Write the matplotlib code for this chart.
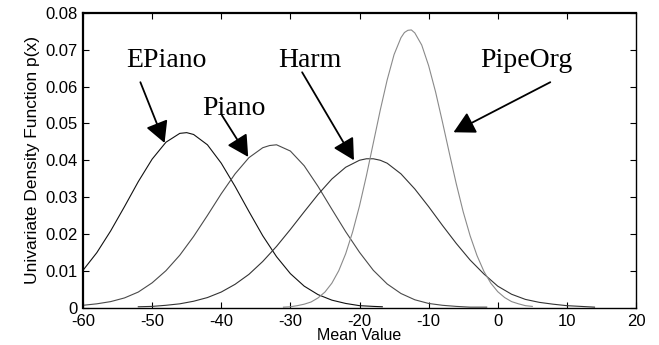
import matplotlib
matplotlib.use("Agg")
import matplotlib.pyplot as plt

# ---- data ----
epiano_x = [-60, -58, -56, -54, -52, -50, -48, -46, -45, -44, -42, -40, -38, -36, -34,
            -32, -30, -28, -26, -24, -22, -20, -18, -16.7]
epiano_y = [0.0101, 0.0149, 0.0208, 0.0274, 0.0342, 0.0403, 0.0449, 0.0473, 0.0475, 0.0470,
            0.0442, 0.0392, 0.0329, 0.0261, 0.0195, 0.0138, 0.0092, 0.0058, 0.0035, 0.0020,
            0.0011, 0.0005, 0.0003, 0.0002]

piano_x = [-60, -58, -56, -54, -52, -50, -48, -46, -44, -42, -40, -38, -36, -34, -33, -32,
           -30, -28, -26, -24, -22, -20, -18, -16, -14, -12, -10, -8, -6, -4, -1.6]
piano_y = [0.0006, 0.0010, 0.0016, 0.0026, 0.0042, 0.0067, 0.0100, 0.0142, 0.0193, 0.0250,
           0.0309, 0.0363, 0.0407, 0.0434, 0.0440, 0.0442, 0.0425, 0.0385, 0.0329, 0.0267,
           0.0206, 0.0150, 0.0101, 0.0064, 0.0038, 0.0021, 0.0011, 0.0006, 0.0003, 0.0001,
           0.0001]

harm_x = [-52, -50, -48, -46, -44, -42, -40, -38, -36, -34, -32, -30, -28, -26, -24, -22,
          -20, -19, -18, -17, -16, -14, -12, -10, -8, -6, -4, -2, 0, 2, 4, 6, 8, 10, 12, 14]
harm_y = [0.0002, 0.0003, 0.0006, 0.0010, 0.0017, 0.0027, 0.0042, 0.0063, 0.0090, 0.0125,
          0.0166, 0.0212, 0.0260, 0.0307, 0.0349, 0.0381, 0.0400, 0.0404, 0.0404, 0.0400,
          0.0392, 0.0363, 0.0322, 0.0274, 0.0223, 0.0174, 0.0129, 0.0091, 0.0058, 0.0036,
          0.0022, 0.0014, 0.0009, 0.0005, 0.0003, 0.0001]

pipeorg_x = [-31, -30, -29, -28, -27, -26, -25, -24, -23, -22, -21, -20, -19, -18, -17, -16,
             -15, -14, -13.5, -13, -12.5, -12, -11, -10, -9, -8, -7, -6, -5, -4, -3, -2, -1,
             0, 1, 2, 3, 4, 5]
pipeorg_y = [0.0001, 0.0002, 0.0005, 0.0009, 0.0015, 0.0026, 0.0042, 0.0066, 0.0100, 0.0146,
             0.0205, 0.0276, 0.0358, 0.0447, 0.0536, 0.0618, 0.0687, 0.0733, 0.0747, 0.0753,
             0.0754, 0.0746, 0.0713, 0.0657, 0.0586, 0.0504, 0.0419, 0.0336, 0.0260, 0.0195,
             0.0141, 0.0098, 0.0066, 0.0043, 0.0027, 0.0016, 0.0010, 0.0005, 0.0003]

labels = ["EPiano", "Piano", "Harm", "PipeOrg"]
label_xy = [(-48.0, 0.0671), (-38.2, 0.0541), (-27.2, 0.0671), (4.2, 0.0671)]
arrow_from = [(-51.7, 0.0612), (-39.9, 0.0522), (-28.3, 0.0639), (7.6, 0.0612)]
arrow_to = [(-48.2, 0.0447), (-36.1, 0.0409), (-20.8, 0.0400), (-6.4, 0.0476)]

xticks = [-60, -50, -40, -30, -20, -10, 0, 10, 20]
yticks = [0, 0.01, 0.02, 0.03, 0.04, 0.05, 0.06, 0.07, 0.08]
ytick_labels = ["0", "0.01", "0.02", "0.03", "0.04", "0.05", "0.06", "0.07", "0.08"]

# ---- figure ----
fig = plt.figure(figsize=(6.59, 3.45), dpi=100)
ax = fig.add_axes([83 / 659, 1 - 307.5 / 345, (636 - 83) / 659, (307.5 - 13) / 345])

ax.plot(epiano_x, epiano_y, color="#111111", lw=0.8)
ax.plot(piano_x, piano_y, color="#4a4a4a", lw=0.8)
ax.plot(harm_x, harm_y, color="#333333", lw=0.8)
ax.plot(pipeorg_x, pipeorg_y, color="#8a8a8a", lw=0.8)

ax.set_xlim(-60, 20)
ax.set_ylim(0, 0.08)
ax.set_xticks(xticks)
ax.set_xticklabels([str(t) for t in xticks])
ax.set_yticks(yticks)
ax.set_yticklabels(ytick_labels)

sans = ["Liberation Sans", "DejaVu Sans"]
for lab in ax.get_xticklabels() + ax.get_yticklabels():
    lab.set_fontfamily(sans)
    lab.set_fontsize(12)

ax.tick_params(direction="in", length=4, width=0.8, top=True, right=True)
ax.tick_params(axis="x", pad=5)
ax.tick_params(axis="y", pad=4)
for side in ["left", "top"]:
    ax.spines[side].set_linewidth(1.6)
for side in ["right", "bottom"]:
    ax.spines[side].set_linewidth(1.0)

ax.set_xlabel("Mean Value", fontfamily=sans, fontsize=11.5, labelpad=-1)
ax.set_ylabel("Univariate Density Function p(x)", fontfamily=sans, fontsize=12.5, labelpad=4)

for lab, (tx, ty), (fx, fy), (hx, hy) in zip(labels, label_xy, arrow_from, arrow_to):
    ax.text(tx, ty, lab, ha="center", va="center",
            fontfamily=["Liberation Serif", "DejaVu Serif"], fontsize=20)
    ax.annotate("", xy=(hx, hy), xytext=(fx, fy),
                arrowprops=dict(arrowstyle="-|>,head_length=0.65,head_width=0.35",
                                mutation_scale=20, lw=1.3, color="black",
                                shrinkA=0, shrinkB=0))

fig.savefig("out.png", dpi=100)
